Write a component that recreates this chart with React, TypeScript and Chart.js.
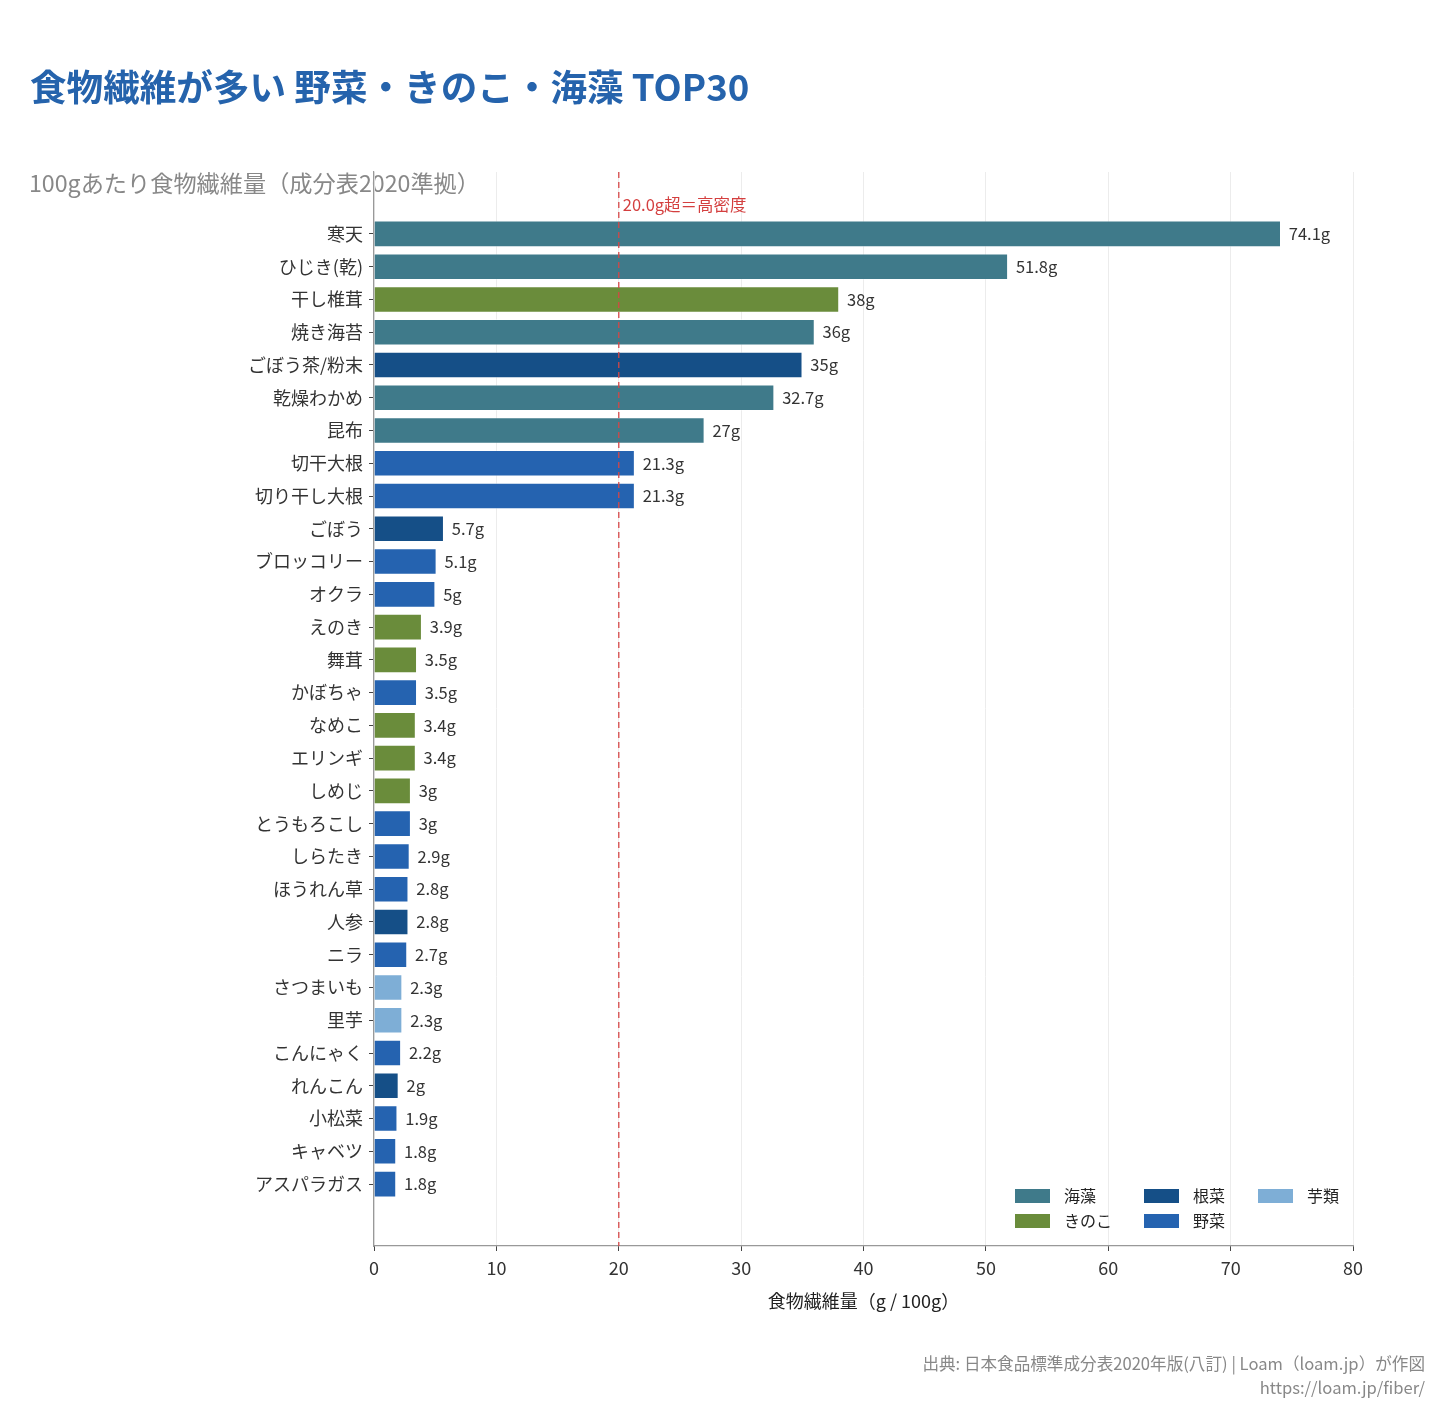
import React, { useEffect, useRef } from "react";
import { Chart, registerables } from "chart.js";

Chart.register(...registerables);

const FONT = "'Noto Sans CJK JP', 'Noto Sans', sans-serif";

const categories: string[] = [
  "寒天", "ひじき(乾)", "干し椎茸", "焼き海苔", "ごぼう茶/粉末", "乾燥わかめ", "昆布",
  "切干大根", "切り干し大根", "ごぼう", "ブロッコリー", "オクラ", "えのき", "舞茸",
  "かぼちゃ", "なめこ", "エリンギ", "しめじ", "とうもろこし", "しらたき", "ほうれん草",
  "人参", "ニラ", "さつまいも", "里芋", "こんにゃく", "れんこん", "小松菜", "キャベツ",
  "アスパラガス",
];

const values: number[] = [
  74.1, 51.8, 38, 36, 35, 32.7, 27, 21.3, 21.3, 5.7, 5.1, 5, 3.9, 3.5, 3.5, 3.4, 3.4,
  3, 3, 2.9, 2.8, 2.8, 2.7, 2.3, 2.3, 2.2, 2, 1.9, 1.8, 1.8,
];

const groups: string[] = [
  "海藻", "海藻", "きのこ", "海藻", "根菜", "海藻", "海藻", "野菜", "野菜", "根菜",
  "野菜", "野菜", "きのこ", "きのこ", "野菜", "きのこ", "きのこ", "きのこ", "野菜",
  "野菜", "野菜", "根菜", "野菜", "芋類", "芋類", "野菜", "根菜", "野菜", "野菜", "野菜",
];

const groupNames: string[] = ["海藻", "きのこ", "根菜", "野菜", "芋類"];
const groupColors: string[] = ["#3f7a8a", "#6a8c3b", "#154f87", "#2563b0", "#7eaed6"];

const xTicks: number[] = [0, 10, 20, 30, 40, 50, 60, 70, 80];
const threshold = 20;

const TITLE = "食物繊維が多い 野菜・きのこ・海藻 TOP30";
const SUBTITLE = "100gあたり食物繊維量（成分表2020準拠）";
const X_TITLE = "食物繊維量（g / 100g）";
const THRESH_LABEL = "20.0g超＝高密度";
const FOOTER1 = "出典: 日本食品標準成分表2020年版(八訂) | Loam（loam.jp）が作図";
const FOOTER2 = "https://loam.jp/fiber/";

const colorOf = (g: string) => groupColors[groupNames.indexOf(g)];

export default function App() {
  const ref = useRef<HTMLCanvasElement | null>(null);

  useEffect(() => {
    if (!ref.current) return;

    const decor = {
      id: "decor",
      beforeDraw(chart: any) {
        const ctx = chart.ctx;
        ctx.save();
        ctx.fillStyle = "#ffffff";
        ctx.fillRect(0, 0, chart.width, chart.height);
        ctx.textBaseline = "middle";
        ctx.textAlign = "left";
        ctx.fillStyle = "#2563ac";
        ctx.font = `bold 36.6px ${FONT}`;
        ctx.fillText(TITLE, 30, 87);
        ctx.fillStyle = "#888888";
        ctx.font = `23.2px ${FONT}`;
        ctx.fillText(SUBTITLE, 29, 183);
        ctx.restore();
      },
      afterDatasetsDraw(chart: any) {
        const ctx = chart.ctx;
        const xs = chart.scales.x;
        const area = chart.chartArea;
        const meta = chart.getDatasetMeta(0);
        ctx.save();
        // value labels
        ctx.font = `16.5px ${FONT}`;
        ctx.fillStyle = "#333333";
        ctx.textBaseline = "middle";
        ctx.textAlign = "left";
        meta.data.forEach((bar: any, i: number) => {
          ctx.fillText(`${values[i]}g`, bar.x + 8, bar.y);
        });
        // threshold line
        const tx = xs.getPixelForValue(threshold);
        ctx.strokeStyle = "rgba(214,69,69,0.85)";
        ctx.lineWidth = 1.5;
        ctx.setLineDash([6, 4]);
        ctx.beginPath();
        ctx.moveTo(tx, area.top);
        ctx.lineTo(tx, area.bottom);
        ctx.stroke();
        ctx.setLineDash([]);
        ctx.fillStyle = "#d43f3f";
        ctx.font = `16.5px ${FONT}`;
        ctx.fillText(THRESH_LABEL, tx + 4, 205);
        // legend
        ctx.font = `16px ${FONT}`;
        const colX = [1015, 1144, 1258];
        const rowY = [1196, 1221];
        groupNames.forEach((g, k) => {
          const c = Math.floor(k / 2);
          const r = k % 2;
          const x = colX[c];
          const y = rowY[r];
          ctx.fillStyle = groupColors[k];
          ctx.fillRect(x, y - 7, 35, 14);
          ctx.fillStyle = "#222222";
          ctx.fillText(g, x + 49, y);
        });
        // footer
        ctx.fillStyle = "#888888";
        ctx.textAlign = "right";
        ctx.font = `16.6px ${FONT}`;
        ctx.fillText(FOOTER1, 1425, 1364);
        ctx.fillText(FOOTER2, 1425, 1388);
        ctx.restore();
      },
    };

    const chart = new Chart(ref.current, {
      type: "bar",
      data: {
        datasets: [
          {
            data: values.map((v, i) => ({ x: v, y: i })),
            backgroundColor: groups.map(colorOf),
            borderColor: "rgba(255,255,255,0.5)",
            borderWidth: 0.8,
            barPercentage: 0.8,
            categoryPercentage: 1,
          },
        ],
      },
      options: {
        indexAxis: "y",
        animation: false,
        responsive: false,
        devicePixelRatio: 1,
        layout: { padding: { left: 0, top: 172, right: 87, bottom: 110 } },
        plugins: { legend: { display: false }, tooltip: { enabled: false } },
        scales: {
          x: {
            type: "linear",
            position: "bottom",
            min: 0,
            max: 80,
            afterFit: (s: any) => { s.height = 70; },
            afterBuildTicks: (s: any) => { s.ticks = xTicks.map((v) => ({ value: v })); },
            ticks: { font: { size: 18, family: FONT }, color: "#333333", padding: 6 },
            grid: { color: "#ececec", lineWidth: 1, tickLength: 5, tickColor: "#444444" },
            border: { display: true, color: "#999999", width: 1.2 },
            title: {
              display: true,
              text: X_TITLE,
              font: { size: 18, family: FONT },
              color: "#222222",
              padding: { top: 0, bottom: 4 },
            },
          },
          y: {
            type: "linear",
            reverse: true,
            offset: false,
            min: -1.89,
            max: 30.89,
            afterFit: (s: any) => { s.width = 374; },
            afterBuildTicks: (s: any) => { s.ticks = categories.map((_, i) => ({ value: i })); },
            ticks: {
              autoSkip: false,
              font: { size: 18, family: FONT },
              color: "#333333",
              padding: 6,
              callback: (v: any) => categories[v as number] ?? "",
            },
            grid: { offset: false, drawOnChartArea: false, tickLength: 5, tickColor: "#444444", color: "#999999" },
            border: { display: true, color: "#999999", width: 1.2 },
          },
        },
      },
      plugins: [decor],
    } as any);

    return () => chart.destroy();
  }, []);

  return (
    <div style={{ position: "absolute", left: 0, top: 0, width: 1440, height: 1426, background: "#fff" }}>
      <canvas ref={ref} width={1440} height={1426} style={{ display: "block" }} />
    </div>
  );
}
